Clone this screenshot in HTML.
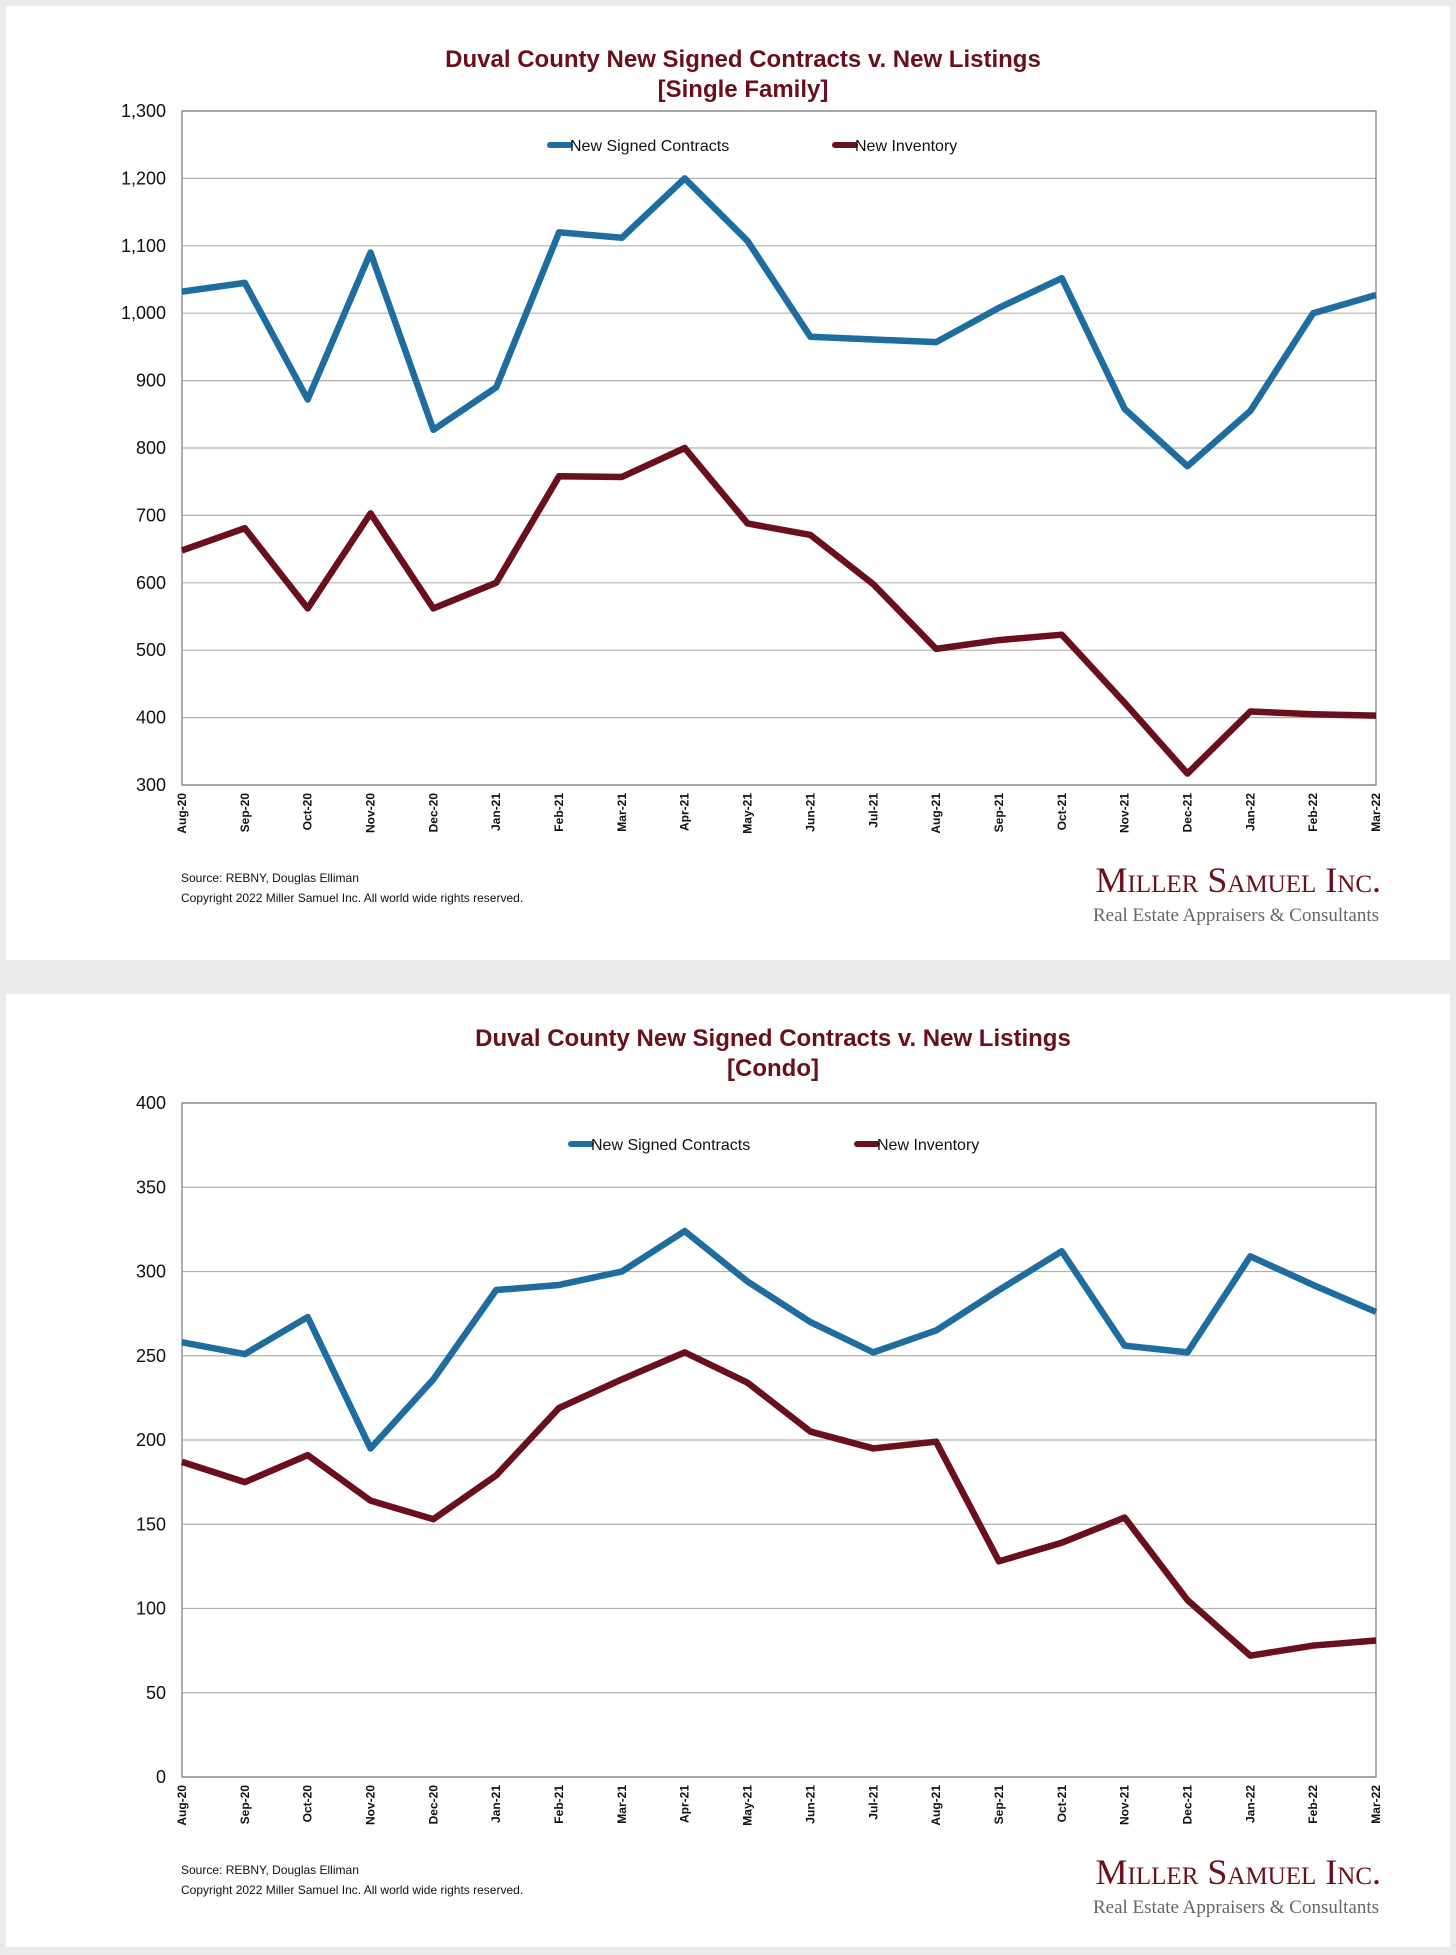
<!DOCTYPE html>
<html><head><meta charset="utf-8"><style>
body{margin:0;background:#ebebeb;width:1456px;height:1955px;overflow:hidden;font-family:"Liberation Sans",sans-serif}
svg{position:absolute;left:0;top:0}
</style></head><body>
<svg id="s" width="1456" height="1955"></svg>
<script>
const months=["Aug-20","Sep-20","Oct-20","Nov-20","Dec-20","Jan-21","Feb-21","Mar-21","Apr-21","May-21","Jun-21","Jul-21","Aug-21","Sep-21","Oct-21","Nov-21","Dec-21","Jan-22","Feb-22","Mar-22"];
const sfContracts=[1032,1045,872,1090,827,890,1120,1112,1200,1107,965,961,957,1008,1052,858,773,855,1000,1027];
const sfInventory=[648,681,562,703,562,600,758,757,800,688,671,598,502,515,523,422,317,409,405,403];
const sfTicks=[300,400,500,600,700,800,900,1000,1100,1200,1300];
const cdContracts=[258,251,273,195,236,289,292,300,324,294,270,252,265,289,312,256,252,309,292,276];
const cdInventory=[187,175,191,164,153,179,219,236,252,234,205,195,199,128,139,154,105,72,78,81];
const cdTicks=[0,50,100,150,200,250,300,350,400];
const NS="http://www.w3.org/2000/svg",S=document.getElementById('s');
function el(t,a,p,txt){const e=document.createElementNS(NS,t);for(const k in a)e.setAttribute(k,a[k]);if(txt!==undefined)e.textContent=txt;(p||S).appendChild(e);return e;}
const BLUE="#1e6d9e",RED="#6a0f1c";
function chart(cfg){
 const g=el('g',{});
 
 
 const p=el('rect',{x:6,y:cfg.py,width:1444,height:cfg.ph,fill:'#fff'},g);
 
 const L=182,R=1376,T=cfg.top,B=cfg.bot,mn=cfg.ticks[0],mx=cfg.ticks[cfg.ticks.length-1];
 const x=i=>L+(R-L)*i/(months.length-1), y=v=>B-(B-T)*(v-mn)/(mx-mn);
 const t1=el('text',{x:cfg.tx,y:cfg.ty,'text-anchor':'middle','font-size':24,'font-weight':'bold',fill:RED},g,"Duval County New Signed Contracts v. New Listings");
 
 const t2=el('text',{x:cfg.tx,y:cfg.ty+30,'text-anchor':'middle','font-size':24,'font-weight':'bold',fill:RED},g,cfg.sub);
 
 cfg.ticks.forEach(v=>{
  const ln=el('line',{x1:L,x2:R,y1:y(v),y2:y(v),stroke:'#b0b0b0','stroke-width':1.2},g);
  
  const tl=el('text',{x:166,y:y(v)+6,'text-anchor':'end','font-size':18,fill:'#111'},g,v.toLocaleString('en-US'));
  
 });
 const fr=el('rect',{x:L,y:T,width:R-L,height:B-T,fill:'none',stroke:'#777','stroke-width':1.2},g);
 
 months.forEach((m,i)=>{
  const xl=el('text',{transform:`translate(${x(i)+4},${B+8}) rotate(-90)`,'text-anchor':'end','font-size':12,'font-weight':'bold',fill:'#111'},g,m);
  
 });
 [[cfg.c,BLUE,'contracts-line'],[cfg.i,RED,'inventory-line']].forEach(([d,c,n])=>{
  const pl=el('polyline',{points:d.map((v,i)=>x(i)+','+y(v)).join(' '),fill:'none',stroke:c,'stroke-width':6.5,'stroke-linejoin':'round'},g);
  
 });
 [[cfg.lx1,BLUE,'New Signed Contracts'],[cfg.lx2,RED,'New Inventory']].forEach(([lx,c,t])=>{
  const lg=el('g',{},g);
  el('line',{x1:lx,x2:lx+20,y1:cfg.ly,y2:cfg.ly,stroke:c,'stroke-width':6,'stroke-linecap':'round'},lg);
  el('text',{x:lx+20,y:cfg.ly+6,'font-size':16,fill:'#111'},lg,t);
 });
 const s1=el('text',{x:181,y:cfg.fy,'font-size':12,fill:'#111'},g,"Source: REBNY, Douglas Elliman");
 
 const s2=el('text',{x:181,y:cfg.fy+20,'font-size':12,fill:'#111'},g,"Copyright 2022 Miller Samuel Inc.  All world wide rights reserved.");
 
 const lo=el('text',{x:1381,y:cfg.fy+10,'text-anchor':'end','font-size':36,'font-family':'Liberation Serif,serif',fill:RED,style:'font-variant:small-caps'},g,"Miller Samuel Inc.");
 
 const ls=el('text',{x:1379,y:cfg.fy+39,'text-anchor':'end','font-size':19,'font-family':'Liberation Serif,serif',fill:'#666'},g,"Real Estate Appraisers & Consultants");
 
}
chart({name:'single-family-chart',py:6,ph:954,top:111,bot:785,ticks:sfTicks,c:sfContracts,i:sfInventory,tx:743,ty:67,sub:'[Single Family]',lx1:550,lx2:835,ly:145,fy:882});
chart({name:'condo-chart',py:994,ph:953,top:1103,bot:1777,ticks:cdTicks,c:cdContracts,i:cdInventory,tx:773,ty:1046,sub:'[Condo]',lx1:571,lx2:857,ly:1144,fy:1874});
</script>
</body></html>
